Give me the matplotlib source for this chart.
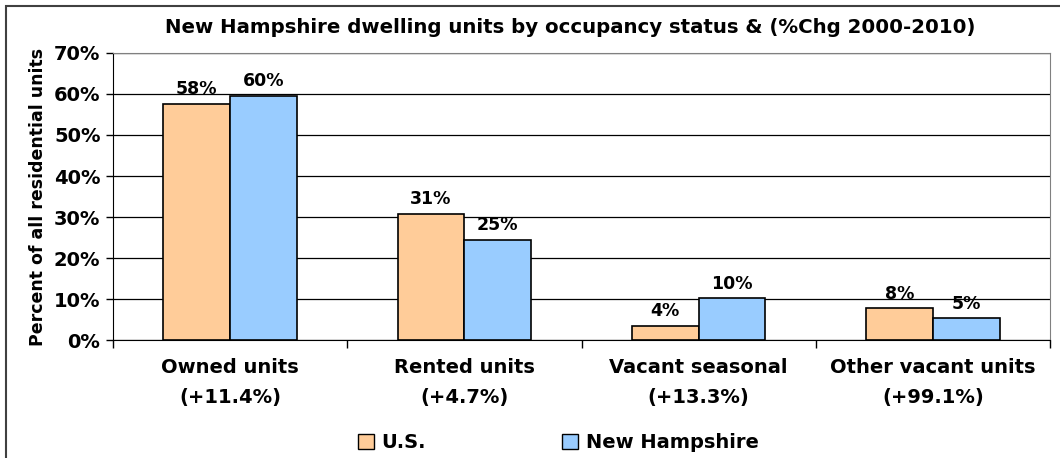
import matplotlib
matplotlib.use('Agg')
from matplotlib import pyplot as plt
from matplotlib.patches import Patch, Rectangle
import numpy as np

plt.rcParams['font.family'] = ['DejaVu Sans']
plt.rcParams['font.weight'] = 'bold'

categories = ['Owned units\n(+11.4%)', 'Rented units\n(+4.7%)',
              'Vacant seasonal\n(+13.3%)', 'Other vacant units\n(+99.1%)']
us_values = [57.6, 30.8, 3.5, 7.7]
nh_values = [59.6, 24.4, 10.2, 5.3]
us_labels = ['58%', '31%', '4%', '8%']
nh_labels = ['60%', '25%', '10%', '5%']
yticks = [0, 10, 20, 30, 40, 50, 60, 70]

us_color = '#FFCC99'
nh_color = '#99CCFF'

fig = plt.figure(figsize=(10.6, 4.58), dpi=100)
fig.patches.append(Rectangle((0.0057, -0.01), 1.0, 0.997, transform=fig.transFigure,
                             fill=False, edgecolor='#404040', linewidth=1.5))
ax = fig.add_axes([0.1066, 0.2576, 0.8840, 0.6267])

x = np.arange(len(categories))
w = 0.285
ax.bar(x - w/2, us_values, w, color=us_color, edgecolor='black', linewidth=1.2, zorder=3)
ax.bar(x + w/2, nh_values, w, color=nh_color, edgecolor='black', linewidth=1.2, zorder=3)

for i in range(len(categories)):
    ax.annotate(us_labels[i], (x[i] - w/2, us_values[i]), xytext=(0, 4), textcoords='offset points',
                ha='center', va='bottom', fontsize=12.5, fontweight='bold')
    ax.annotate(nh_labels[i], (x[i] + w/2, nh_values[i]), xytext=(0, 4), textcoords='offset points',
                ha='center', va='bottom', fontsize=12.5, fontweight='bold')

ax.set_xlim(-0.5, len(categories) - 0.5)
ax.set_ylim(0, 70)
ax.set_yticks(yticks)
ax.set_yticklabels([f'{t}%' for t in yticks], fontsize=14, fontweight='bold')
ax.yaxis.grid(True, color='#000000', linewidth=0.9, zorder=0)
ax.set_axisbelow(True)

ax.set_xticks(np.arange(len(categories) + 1) - 0.5, minor=False)
ax.set_xticklabels([])
ax.set_xticks(x, minor=True)
ax.set_xticklabels(categories, minor=True, fontsize=14, fontweight='bold', linespacing=1.75)
ax.tick_params(axis='x', which='minor', length=0, pad=13)
ax.tick_params(axis='x', which='major', length=6, direction='out', width=1)
ax.tick_params(axis='y', length=5, width=1, pad=4)

ax.spines['left'].set_color('black')
ax.spines['bottom'].set_color('black')
ax.spines['top'].set_color('#808080')
ax.spines['right'].set_color('#808080')

ax.set_ylabel('Percent of all residential units', fontsize=12.5, fontweight='bold', labelpad=5)
fig.text(0.538, 0.94, 'New Hampshire dwelling units by occupancy status & (%Chg 2000-2010)',
         ha='center', va='center', fontsize=14.2, fontweight='bold')

handles = [Patch(facecolor=us_color, edgecolor='black', label='U.S.'),
           Patch(facecolor=nh_color, edgecolor='black', label='New Hampshire')]
fig.legend(handles=handles, loc='center left', bbox_to_anchor=(0.338, 0.033), ncol=2, frameon=False,
           prop={'size': 14, 'weight': 'bold'}, handlelength=0.8, handleheight=0.8,
           handletextpad=0.4, columnspacing=7.0, borderaxespad=0, borderpad=0)

fig.savefig('out.png', dpi=100)
